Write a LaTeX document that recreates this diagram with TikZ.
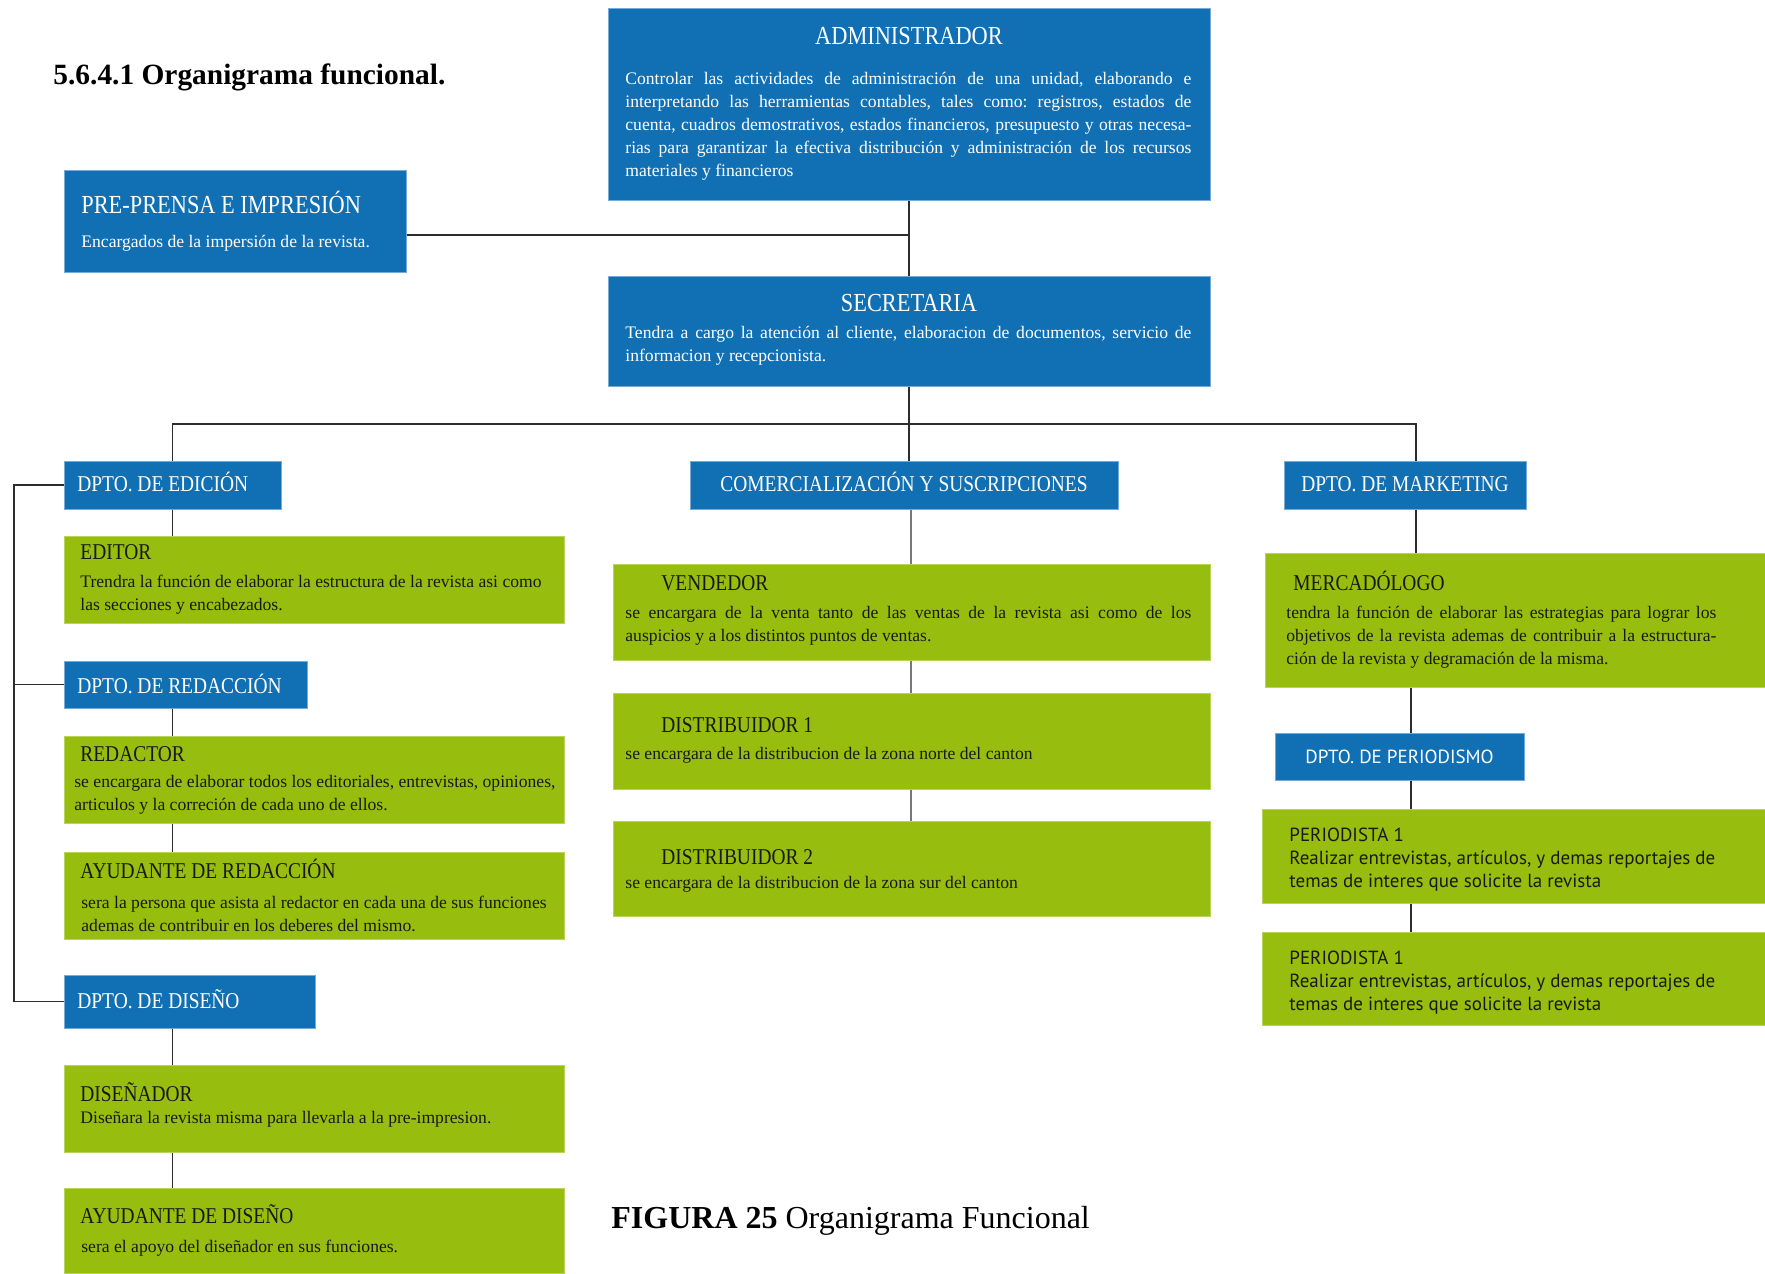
\documentclass[tikz,border=0pt]{standalone}
\usepackage{fontspec}
\setmainfont{Liberation Serif}
\newfontfamily\hdfont[FakeStretch=0.86]{Liberation Serif}
\newfontfamily\sansfont{PT Sans}
\usetikzlibrary{fit}
\definecolor{boxblue}{RGB}{17,112,180}
\definecolor{boxgreen}{RGB}{151,190,14}
\definecolor{edgeblue}{RGB}{120,170,215}
\definecolor{edgegreen}{RGB}{185,212,90}
\definecolor{inkdark}{RGB}{25,25,20}
\definecolor{linegray}{RGB}{45,45,45}
\definecolor{linegraylight}{RGB}{120,120,120}
\frenchspacing
\begin{document}
\begin{tikzpicture}[x=0.5pt,y=-0.5pt,
  bluebox/.style={fill=boxblue, draw=edgeblue, line width=0.5pt, inner sep=0pt},
  greenbox/.style={fill=boxgreen, draw=edgegreen, line width=0.5pt, inner sep=0pt},
  bighd/.style={inner sep=0pt, text=white, anchor=base, font=\hdfont\fontsize{13}{15}\selectfont},
  dephd/.style={inner sep=0pt, text=white, anchor=base west, font=\hdfont\fontsize{11.3}{13}\selectfont},
  grnhd/.style={inner sep=0pt, text=inkdark, anchor=base west, font=\hdfont\fontsize{11.3}{13}\selectfont},
  bodytxt/.style={inner sep=0pt, font=\frenchspacing\fontsize{8.8}{11.5}\selectfont},
  sanstxt/.style={inner sep=0pt, font=\sansfont\fontsize{9.5}{11.5}\selectfont},
  conn/.style={draw=linegray, line width=0.8pt},
  connlight/.style={draw=linegraylight, line width=1.2pt},
]
\useasboundingbox (0,0) rectangle (1765,1273);

% ---------- boxes ----------
\node[bluebox, fit={(608,9)(1210,201)}] (adm) {};
\node[bluebox, fit={(64,171)(406,272)}] (pre) {};
\node[bluebox, fit={(608,276)(1210,386)}] (sec) {};
\node[bluebox, fit={(64,461)(281,509)}] (edi) {};
\node[bluebox, fit={(690,461)(1118,509)}] (com) {};
\node[bluebox, fit={(1284,461)(1526,509)}] (mkt) {};
\node[greenbox, fit={(64,536)(564,623)}] (editor) {};
\node[bluebox, fit={(64,661)(307,708)}] (red) {};
\node[greenbox, fit={(64,736)(564,823)}] (redactor) {};
\node[greenbox, fit={(64,852)(564,939)}] (ayred) {};
\node[bluebox, fit={(64,975)(315,1028)}] (dis) {};
\node[greenbox, fit={(64,1065)(564,1152)}] (disenador) {};
\node[greenbox, fit={(64,1188)(564,1273)}] (aydis) {};
\node[greenbox, fit={(613,564)(1210,660)}] (vend) {};
\node[greenbox, fit={(613,693)(1210,789)}] (dist1) {};
\node[greenbox, fit={(613,821)(1210,916)}] (dist2) {};
\node[greenbox, fit={(1265,553)(1765,687)}] (merc) {};
\node[bluebox, fit={(1275,733)(1524,780)}] (per) {};
\node[greenbox, fit={(1262,809)(1765,903)}] (pa) {};
\node[greenbox, fit={(1262,932)(1765,1025)}] (pb) {};

% ---------- connectors ----------
\coordinate (pj) at (909,235);
\coordinate (bus) at (909,424);
\coordinate (busR) at (1416,424);
\coordinate (lb) at (14,484);
\coordinate (cx) at (911,0);
\coordinate (px) at (1411,0);
\draw[conn] (adm.south) -- (sec.north);
\draw[conn] (pre.east |- pj) -- (pj);
\draw[conn] (sec.south) -- (sec.south |- com.north);
\draw[conn] (edi.north) |- (busR) -- (busR |- mkt.north);
\draw[conn] (edi.south) -- (edi.south |- editor.north);
\draw[conn] (edi.south |- red.south) -- (edi.south |- redactor.north);
\draw[conn] (edi.south |- redactor.south) -- (edi.south |- ayred.north);
\draw[conn] (edi.south |- dis.south) -- (edi.south |- disenador.north);
\draw[conn] (edi.south |- disenador.south) -- (edi.south |- aydis.north);
\draw[conn] (edi.west) -- (edi.west -| lb) |- (dis.west);
\draw[conn] (red.west) -- (red.west -| lb);
\draw[connlight] (com.south -| cx) -- (vend.north -| cx);
\draw[connlight] (vend.south -| cx) -- (dist1.north -| cx);
\draw[connlight] (dist1.south -| cx) -- (dist2.north -| cx);
\draw[conn] (mkt.south -| busR) -- (merc.north -| busR);
\draw[conn] (merc.south -| px) -- (per.north -| px);
\draw[conn] (per.south -| px) -- (pa.north -| px);
\draw[conn] (pa.south -| px) -- (pb.north -| px);

% ---------- texts ----------
\node[anchor=base west, inner sep=0pt, font=\bfseries\fontsize{14.7}{17}\selectfont] (title) at (53,85) {5.6.4.1 Organigrama funcional.};
\node[anchor=base west, inner sep=0pt, font=\fontsize{16}{19}\selectfont] (caption) at (611,1228) {\textbf{FIGURA 25} Organigrama Funcional};

\node[bighd] (admhd) at (909,44.5) {ADMINISTRADOR};
\node[bodytxt, text=white, anchor=north west, text width=283pt, align=justify] (admtx) at (625,68)
 {\strut Controlar las actividades de administración de una unidad, elaborando e\linebreak
  interpretando las herramientas contables, tales como: registros, estados de\linebreak
  cuenta, cuadros demostrativos, estados financieros, presupuesto y otras necesa-\linebreak
  rias para garantizar la efectiva distribución y administración de los recursos\linebreak
  materiales y financieros};

\node[bighd, anchor=base west] (prehd) at (81,213.5) {PRE-PRENSA E IMPRESIÓN};
\node[bodytxt, text=white, anchor=base west] (pretx) at (81,248) {Encargados de la impersión de la revista.};

\node[bighd] (sechd) at (909,311.5) {SECRETARIA};
\node[bodytxt, text=white, anchor=north west, text width=283pt, align=justify] (sectx) at (625,322)
 {\strut Tendra a cargo la atención al cliente, elaboracion de documentos, servicio de\linebreak
  informacion y recepcionista.};

\node[dephd] (edihd) at (77,491.5) {DPTO. DE EDICIÓN};
\node[dephd, anchor=base] (comhd) at (904,491.5) {COMERCIALIZACIÓN Y SUSCRIPCIONES};
\node[dephd, anchor=base] (mkthd) at (1405,491.5) {DPTO. DE MARKETING};
\node[dephd] (redhd) at (77,693.5) {DPTO. DE REDACCIÓN};
\node[dephd] (dishd) at (77,1008.5) {DPTO. DE DISEÑO};

\node[grnhd] (edthd) at (80,559.5) {EDITOR};
\node[bodytxt, text=inkdark, anchor=north west, align=left] (edttx) at (80,571)
 {\strut Trendra la función de elaborar la estructura de la revista asi como\\las secciones y encabezados.};

\node[grnhd] (rdchd) at (80,761.5) {REDACTOR};
\node[bodytxt, text=inkdark, anchor=north west, align=left] (rdctx) at (74,771)
 {\strut se encargara de elaborar todos los editoriales, entrevistas, opiniones,\\articulos y la correción de cada uno de ellos.};

\node[grnhd] (ayrhd) at (80,878.5) {AYUDANTE DE REDACCIÓN};
\node[bodytxt, text=inkdark, anchor=north west, align=left] (ayrtx) at (81,892)
 {\strut sera la persona que asista al redactor en cada una de sus funciones\\ademas de contribuir en los deberes del mismo.};

\node[grnhd] (dsnhd) at (80,1101.5) {DISEÑADOR};
\node[bodytxt, text=inkdark, anchor=base west] (dsntx) at (80,1123) {Diseñara la revista misma para llevarla a la pre-impresion.};

\node[grnhd] (aydhd) at (80,1223.5) {AYUDANTE DE DISEÑO};
\node[bodytxt, text=inkdark, anchor=base west] (aydtx) at (81,1252) {sera el apoyo del diseñador en sus funciones.};

\node[grnhd] (vndhd) at (661,590.5) {VENDEDOR};
\node[bodytxt, text=inkdark, anchor=north west, text width=283pt, align=justify] (vndtx) at (625,602)
 {\strut se encargara de la venta tanto de las ventas de la revista asi como de los\linebreak
  auspicios y a los distintos puntos de ventas.};

\node[grnhd] (d1hd) at (661,732.5) {DISTRIBUIDOR 1};
\node[bodytxt, text=inkdark, anchor=base west] (d1tx) at (625,759) {se encargara de la distribucion de la zona norte del canton};
\node[grnhd] (d2hd) at (661,864.5) {DISTRIBUIDOR 2};
\node[bodytxt, text=inkdark, anchor=base west] (d2tx) at (625,888) {se encargara de la distribucion de la zona sur del canton};

\node[grnhd] (mrchd) at (1293,590.5) {MERCADÓLOGO};
\node[bodytxt, text=inkdark, anchor=north west, text width=215pt, align=justify] (mrctx) at (1286,602)
 {\strut tendra la función de elaborar las estrategias para lograr los\linebreak
  objetivos de la revista ademas de contribuir a la estructura-\linebreak
  ción de la revista y degramación de la misma.};

\node[sanstxt, text=white] (perhd) at (per.center) {DPTO. DE PERIODISMO};
\node[sanstxt, text=inkdark, anchor=north west, align=left] (patx) at (1289,825)
 {\strut PERIODISTA 1\\Realizar entrevistas, artículos, y demas reportajes de\\temas de interes que solicite la revista};
\node[sanstxt, text=inkdark, anchor=north west, align=left] (pbtx) at (1289,948)
 {\strut PERIODISTA 1\\Realizar entrevistas, artículos, y demas reportajes de\\temas de interes que solicite la revista};
\end{tikzpicture}
\end{document}
